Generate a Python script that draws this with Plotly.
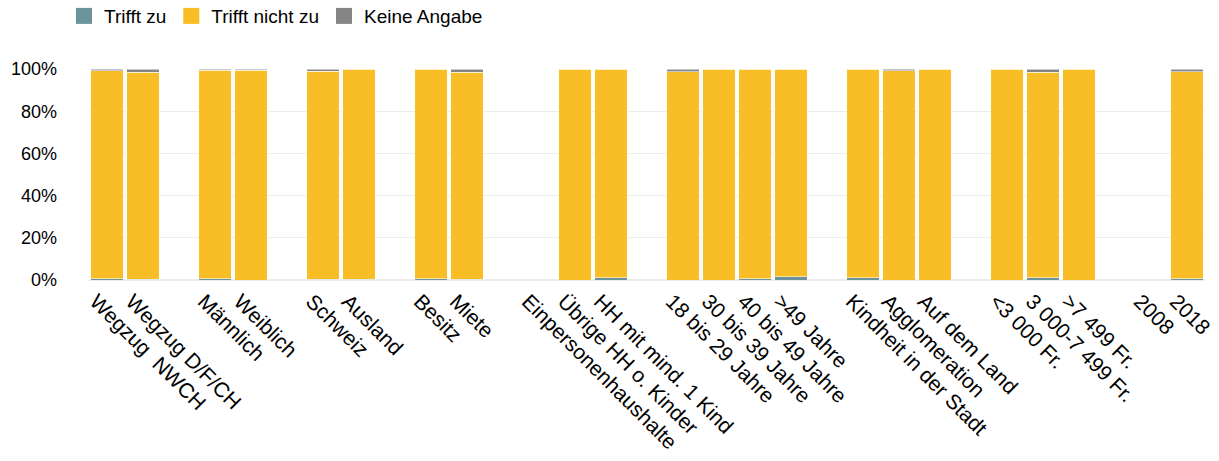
import plotly.graph_objects as go

categories = [
    "Wegzug  NWCH", "Wegzug D/F/CH", " ",
    "Männlich", "Weiblich", "  ",
    "Schweiz", "Ausland", "   ",
    "Besitz", "Miete", "    ",
    "Einpersonenhaushalte", "Übrige HH o. Kinder", "HH mit mind. 1 Kind", "     ",
    "18 bis 29 Jahre", "30 bis 39 Jahre", "40 bis 49 Jahre", ">49 Jahre", "      ",
    "Kindheit in der Stadt", "Agglomeration", "Auf dem Land", "       ",
    "<3 000 Fr.", "3 000-7 499 Fr.", ">7 499 Fr.", "        ",
    "2008", "2018",
]

trifft_zu = [
    0.5, 0.3, None,
    0.5, 0.0, None,
    0.4, 0.3, None,
    0.5, 0.3, None,
    None, 0.0, 1.1, None,
    0.0, 0.0, 0.7, 1.6, None,
    1.1, 0.0, 0.0, None,
    0.0, 1.0, 0.0, None,
    None, 0.5,
]

keine_angabe = [
    0.8, 1.6, None,
    0.7, 0.7, None,
    1.0, 0.0, None,
    0.0, 1.6, None,
    None, 0.0, 0.0, None,
    1.3, 0.0, 0.0, 0.0, None,
    0.0, 0.9, 0.0, None,
    0.0, 1.6, 0.0, None,
    None, 1.3,
]

trifft_nicht_zu = [
    None if (z is None) else round(100 - z - k, 2)
    for z, k in zip(trifft_zu, keine_angabe)
]

series = [
    ("Trifft zu", trifft_zu, "#6a939b"),
    ("Trifft nicht zu", trifft_nicht_zu, "#f9bd25"),
    ("Keine Angabe", keine_angabe, "#858585"),
]

fig = go.Figure()
for name, vals, col in series:
    fig.add_trace(go.Bar(
        x=categories,
        y=[None if v is None else v / 100 for v in vals],
        name=name,
        legendgroup=name,
        showlegend=False,
        marker=dict(color=col, line=dict(color="rgba(255,255,255,0.55)", width=1)),
    ))
# legend entries with larger square swatches
for name, vals, col in series:
    fig.add_trace(go.Scatter(
        x=[None], y=[None],
        mode="markers",
        name=name,
        legendgroup=name,
        marker=dict(symbol="square", size=16, color=col),
        showlegend=True,
    ))

fig.update_layout(
    barmode="stack",
    bargap=0.11,
    width=1219,
    height=461,
    margin=dict(l=89, r=14, t=69, b=181, autoexpand=False),
    paper_bgcolor="white",
    plot_bgcolor="white",
    font=dict(family="Liberation Sans, Arial, sans-serif", size=18, color="#000000"),
    legend=dict(
        orientation="h",
        x=-0.0224, xanchor="left",
        y=1.251, yanchor="middle",
        yref="paper",
        font=dict(size=19),
        traceorder="normal",
        itemclick=False,
    ),
    showlegend=True,
)
fig.update_xaxes(
    type="category",
    categoryorder="array",
    categoryarray=categories,
    tickangle=45,
    showgrid=False,
    showline=False,
    ticks="",
    tickfont=dict(size=21),
    ticklabelshift=-11,
    ticklabelstandoff=4,
    automargin=False,
)
fig.update_yaxes(
    range=[0, 1.0],
    tickvals=[0, 0.2, 0.4, 0.6, 0.8, 1.0],
    tickformat=".0%",
    showgrid=True,
    gridcolor="#ececec",
    gridwidth=1,
    zeroline=True,
    zerolinecolor="#ececec",
    showline=False,
    ticks="",
    tickfont=dict(size=18),
    ticklabelstandoff=31,
    automargin=False,
)

fig.write_html(
    "out.html",
    config={"displayModeBar": False},
    post_script="document.body.style.margin='0';document.body.style.overflow='hidden';",
)
